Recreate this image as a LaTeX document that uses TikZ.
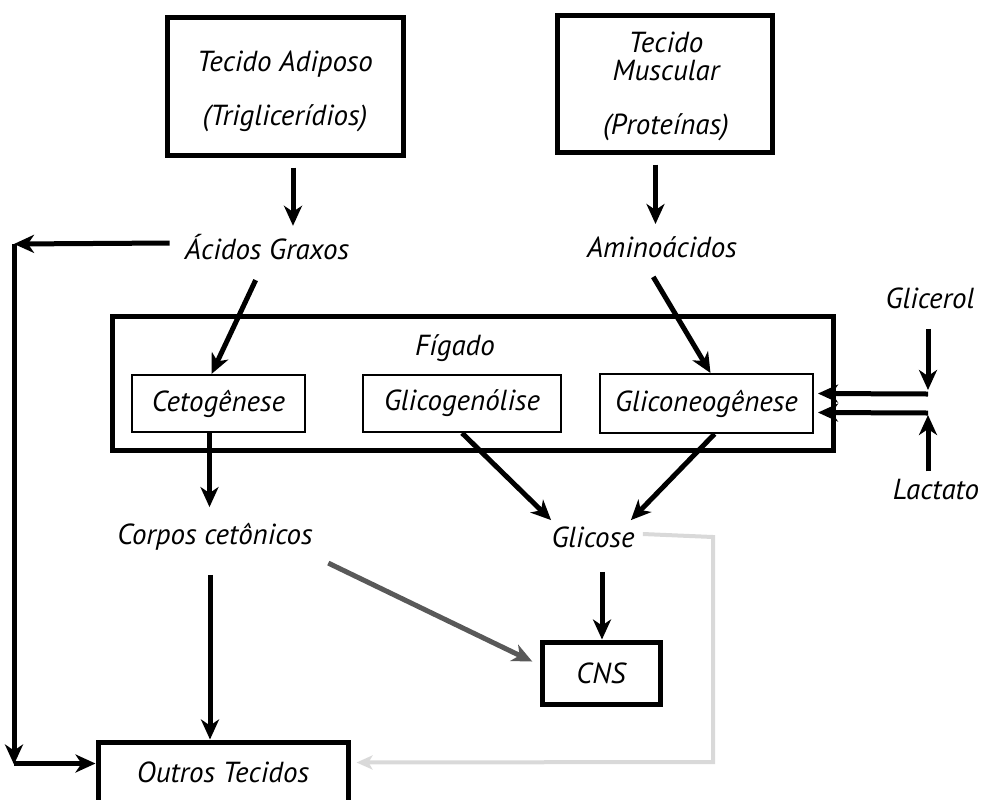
\documentclass[tikz,border=0pt]{standalone}
\usepackage{fontspec}
\setmainfont{PT Sans}
\usetikzlibrary{arrows.meta,calc}
\begin{document}
\begin{tikzpicture}[x=0.5pt,y=-0.5pt,
  font=\itshape\fontsize{14.5}{16}\selectfont,
  lbl/.style={inner sep=0pt},
  bigbox/.style={draw,line width=2.5pt,inner sep=0pt},
  smallbox/.style={draw,line width=1pt,inner sep=0pt},
  arr/.style={line width=2.5pt,-{Stealth[length=10pt,width=9pt,inset=3pt]}},
  grayarr/.style={arr,draw=black!65},
  palearr/.style={line width=2pt,draw=black!15,-{Stealth[length=8pt,width=7pt,inset=2pt]}}]
\useasboundingbox (0,0) rectangle (986,799);

% source tissues
\node[bigbox,minimum width=118pt,minimum height=69pt] (adip) at (285,86) {};
\node[lbl,align=center] at (285,91) {Tecido Adiposo\\[11pt](Triglicerídios)};
\node[bigbox,minimum width=107.5pt,minimum height=68.5pt] (musc) at (664.5,83.5) {};
\node[lbl,align=center] at (666,86) {Tecido\\[-2pt]Muscular\\[11pt](Proteínas)};

% released substrates
\node[lbl] (ag) at (267,247) {Ácidos Graxos};
\node[lbl] (am) at (662,247) {Aminoácidos};

% liver with its three pathways
\node[bigbox,minimum width=360.5pt,minimum height=67pt] (fig) at (472.5,383) {};
\node[lbl] (figt) at (455,348) {Fígado};
\node[smallbox,minimum width=86.5pt,minimum height=28.5pt] (ceto) at (218.5,403.5) {Cetogênese};
\node[smallbox,minimum width=99pt,minimum height=28.5pt] (glg) at (462,403.5) {Glicogenólise};
\node[smallbox,minimum width=106.5pt,minimum height=29.5pt] (gneo) at (706.5,403.5) {Gliconeogênese};

% extra gluconeogenic substrates
\node[lbl] (glic) at (930,298) {Glicerol};
\node[lbl] (lac) at (936,490) {Lactato};
\coordinate (gj) at (928,394);
\coordinate (lj) at (928,413);

% products
\node[lbl] (cc) at (215,537) {Corpos cetônicos};
\node[lbl] (gc) at (593,537) {Glicose};

% consumers
\node[bigbox,minimum width=59pt,minimum height=31pt] (cns) at (601,673) {CNS};
\node[bigbox,minimum width=125pt,minimum height=30.5pt] (ot) at (223,772.5) {};
\node[lbl] at (223,772) {Outros Tecidos};

\coordinate (lc) at (14,244);

% flows
\draw[arr,shorten <=5pt] ($(adip.south)+(8,0)$) -- ($(adip.south |- ag.north)+(8,-8)$);
\draw[arr,shorten <=5pt] ($(musc.south)+(-9,0)$) -- ($(musc.south |- am.north)+(-9,-12)$);
\draw[arr] ($(ag.west)+(-15,-4)$) -- (lc);
\draw[arr] (lc) -- ($(lc |- ot.west)+(0,-8)$);
\draw[arr] ($(lc |- ot.west)+(0,-9)$) -- ($(ot.west)+(0,-9)$);

\draw[arr,shorten <=11pt] ($(ag.south)+(-2,0)$) -- ($(ceto.north)+(-7,0)$);
\draw[arr,shorten <=11pt] ($(am.south)+(-20,0)$) -- ($(gneo.north)+(4,0)$);

\draw[arr] (gj |- glic.south) ++(0,20) -- ($(gj)+(0,-4)$);
\draw[arr] (gj) -- ($(gneo.east)+(4,-10)$);
\draw[arr] (gj |- lac.north) ++(0,-8) -- ($(lj)+(0,2)$);
\draw[arr] (lj) -- ($(gneo.east)+(4,9)$);

\draw[arr,shorten >=3pt] ($(ceto.south)+(-9,0)$) -- ($(ceto.south |- cc.north)+(-9,-10)$);
\draw[arr] (glg.south) -- ($(gc.north west)+(0,-6)$);
\draw[arr] ($(gneo.south)+(8,0)$) -- ($(gc.north east)+(-4,-6)$);

\draw[arr,shorten <=12pt] ($(gc.south)+(9,0)$) -- ($(cns.north)+(1,0)$);
\draw[arr,shorten <=12pt] ($(cc.south)+(-5,0)$) -- ($(cc.south |- ot.north)+(-5,0)$);
\draw[grayarr,shorten <=14pt,shorten >=4pt] ($(cc.south east)+(-10,0)$) -- ($(cns.west)+(0,-8)$);
\draw[palearr] ($(gc.east)+(8,-3)$) -- (713,537) -- (713,762) -- ($(ot.east)+(6,-10)$);
\end{tikzpicture}
\end{document}
